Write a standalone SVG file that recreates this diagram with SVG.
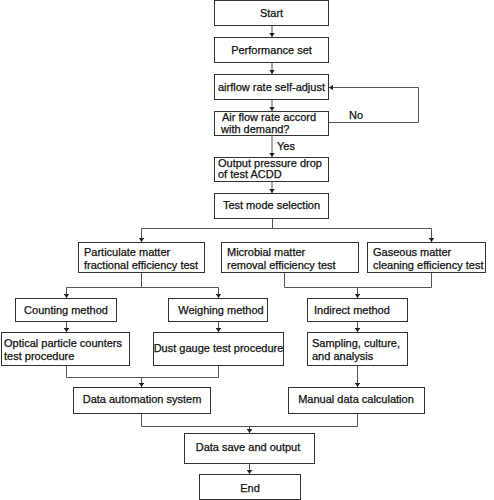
<svg xmlns="http://www.w3.org/2000/svg" width="494" height="500" viewBox="0 0 494 500">
<defs>
<marker id="ah" viewBox="0 0 6 8" refX="6" refY="4" markerWidth="4" markerHeight="5.5" orient="auto" markerUnits="userSpaceOnUse">
<path d="M0,0 L6,4 L0,8 Z" fill="#222"/>
</marker>
<style>
.box{fill:#fff;stroke:#333;stroke-width:1}
.t{font-family:"Liberation Sans",Arial,sans-serif;font-size:11px;fill:#111;stroke:#111;stroke-width:0.25}
.c{text-anchor:middle}
.ln{fill:none;stroke:#555;stroke-width:1}
.ar{fill:none;stroke:#555;stroke-width:1;marker-end:url(#ah)}
</style>
</defs>
<rect width="494" height="500" fill="#fff"/>
<g id="connectors">
<line class="ar" x1="272" y1="25" x2="272" y2="37"/>
<line class="ar" x1="272" y1="62" x2="272" y2="74"/>
<line class="ar" x1="272" y1="99" x2="272" y2="111"/>
<polyline class="ar" points="328.5,122.5 418.5,122.5 418.5,87.5 329,87.5"/>
<line class="ar" x1="272" y1="135" x2="272" y2="157"/>
<line class="ar" x1="272" y1="181" x2="272" y2="193"/>
<polyline class="ln" points="272.5,218 272.5,228.5"/>
<polyline class="ar" points="272.5,228.5 141.5,228.5 141.5,242"/>
<polyline class="ar" points="272.5,228.5 431.5,228.5 431.5,242"/>
<polyline class="ln" points="141.5,272 141.5,287.5"/>
<polyline class="ar" points="141.5,287.5 66.5,287.5 66.5,298"/>
<polyline class="ar" points="141.5,287.5 218.5,287.5 218.5,298"/>
<polyline class="ln" points="284.5,272 284.5,287.5 431.5,287.5 431.5,272"/>
<line class="ar" x1="357.5" y1="287.5" x2="357.5" y2="298"/>
<line class="ar" x1="66.5" y1="321" x2="66.5" y2="332"/>
<line class="ar" x1="218.5" y1="321" x2="218.5" y2="332"/>
<line class="ar" x1="357.5" y1="321" x2="357.5" y2="332"/>
<polyline class="ln" points="66.5,365 66.5,377.5 218.5,377.5 218.5,365"/>
<line class="ar" x1="141.5" y1="377.5" x2="141.5" y2="387"/>
<line class="ar" x1="357.5" y1="365" x2="357.5" y2="387"/>
<polyline class="ln" points="141.5,413 141.5,426.5 357.5,426.5 357.5,413"/>
<line class="ar" x1="249.5" y1="426.5" x2="249.5" y2="433"/>
<line class="ar" x1="249.5" y1="463" x2="249.5" y2="474"/>
<text class="t" x="349" y="119">No</text>
<text class="t" x="277" y="150">Yes</text>
</g>
<g id="start"><rect class="box" x="214.5" y="0.5" width="114" height="25"/><text class="t c" x="271.5" y="17">Start</text></g>
<g id="perf"><rect class="box" x="214.5" y="37.5" width="114" height="25"/><text class="t c" x="271.5" y="54">Performance set</text></g>
<g id="adjust"><rect class="box" x="214.5" y="74.5" width="114" height="25"/><text class="t c" x="271.5" y="91">airflow rate self-adjust</text></g>
<g id="accord"><rect class="box" x="214.5" y="111.5" width="114" height="24"/><text class="t" x="222" y="121">Air flow rate accord</text><text class="t" x="221" y="133">with demand?</text></g>
<g id="output"><rect class="box" x="214.5" y="157.5" width="114" height="24"/><text class="t" x="218" y="167">Output pressure drop</text><text class="t" x="218" y="178">of test ACDD</text></g>
<g id="mode"><rect class="box" x="214.5" y="193.5" width="114" height="25"/><text class="t c" x="271.5" y="209">Test mode selection</text></g>
<g id="particulate"><rect class="box" x="78.5" y="242.5" width="126" height="30"/><text class="t" x="84" y="256">Particulate matter</text><text class="t" x="84" y="269">fractional efficiency test</text></g>
<g id="microbial"><rect class="box" x="221.5" y="242.5" width="137" height="30"/><text class="t" x="227" y="256">Microbial matter</text><text class="t" x="227" y="269">removal efficiency test</text></g>
<g id="gaseous"><rect class="box" x="367.5" y="242.5" width="118" height="30"/><text class="t" x="373" y="256">Gaseous matter</text><text class="t" x="373" y="269">cleaning efficiency test</text></g>
<g id="counting"><rect class="box" x="15.5" y="298.5" width="101" height="23"/><text class="t c" x="66" y="314">Counting method</text></g>
<g id="weighing"><rect class="box" x="168.5" y="298.5" width="99" height="23"/><text class="t c" x="221" y="314">Weighing method</text></g>
<g id="indirect"><rect class="box" x="307.5" y="298.5" width="100" height="23"/><text class="t" x="314" y="314">Indirect method</text></g>
<g id="optical"><rect class="box" x="1.5" y="332.5" width="128" height="33"/><text class="t" x="4" y="347">Optical particle counters</text><text class="t" x="4" y="360">test procedure</text></g>
<g id="dust"><rect class="box" x="153.5" y="332.5" width="130" height="33"/><text class="t c" x="218.5" y="352">Dust gauge test procedure</text></g>
<g id="sampling"><rect class="box" x="307.5" y="332.5" width="100" height="33"/><text class="t" x="312" y="347">Sampling, culture,</text><text class="t" x="312" y="360">and analysis</text></g>
<g id="automation"><rect class="box" x="73.5" y="387.5" width="137" height="26"/><text class="t c" x="142" y="403">Data automation system</text></g>
<g id="manual"><rect class="box" x="288.5" y="387.5" width="136" height="26"/><text class="t c" x="356" y="403">Manual data calculation</text></g>
<g id="save"><rect class="box" x="184.5" y="433.5" width="130" height="30"/><text class="t c" x="248" y="451">Data save and output</text></g>
<g id="end"><rect class="box" x="199.5" y="474.5" width="101" height="25"/><text class="t c" x="250" y="492">End</text></g>
</svg>
